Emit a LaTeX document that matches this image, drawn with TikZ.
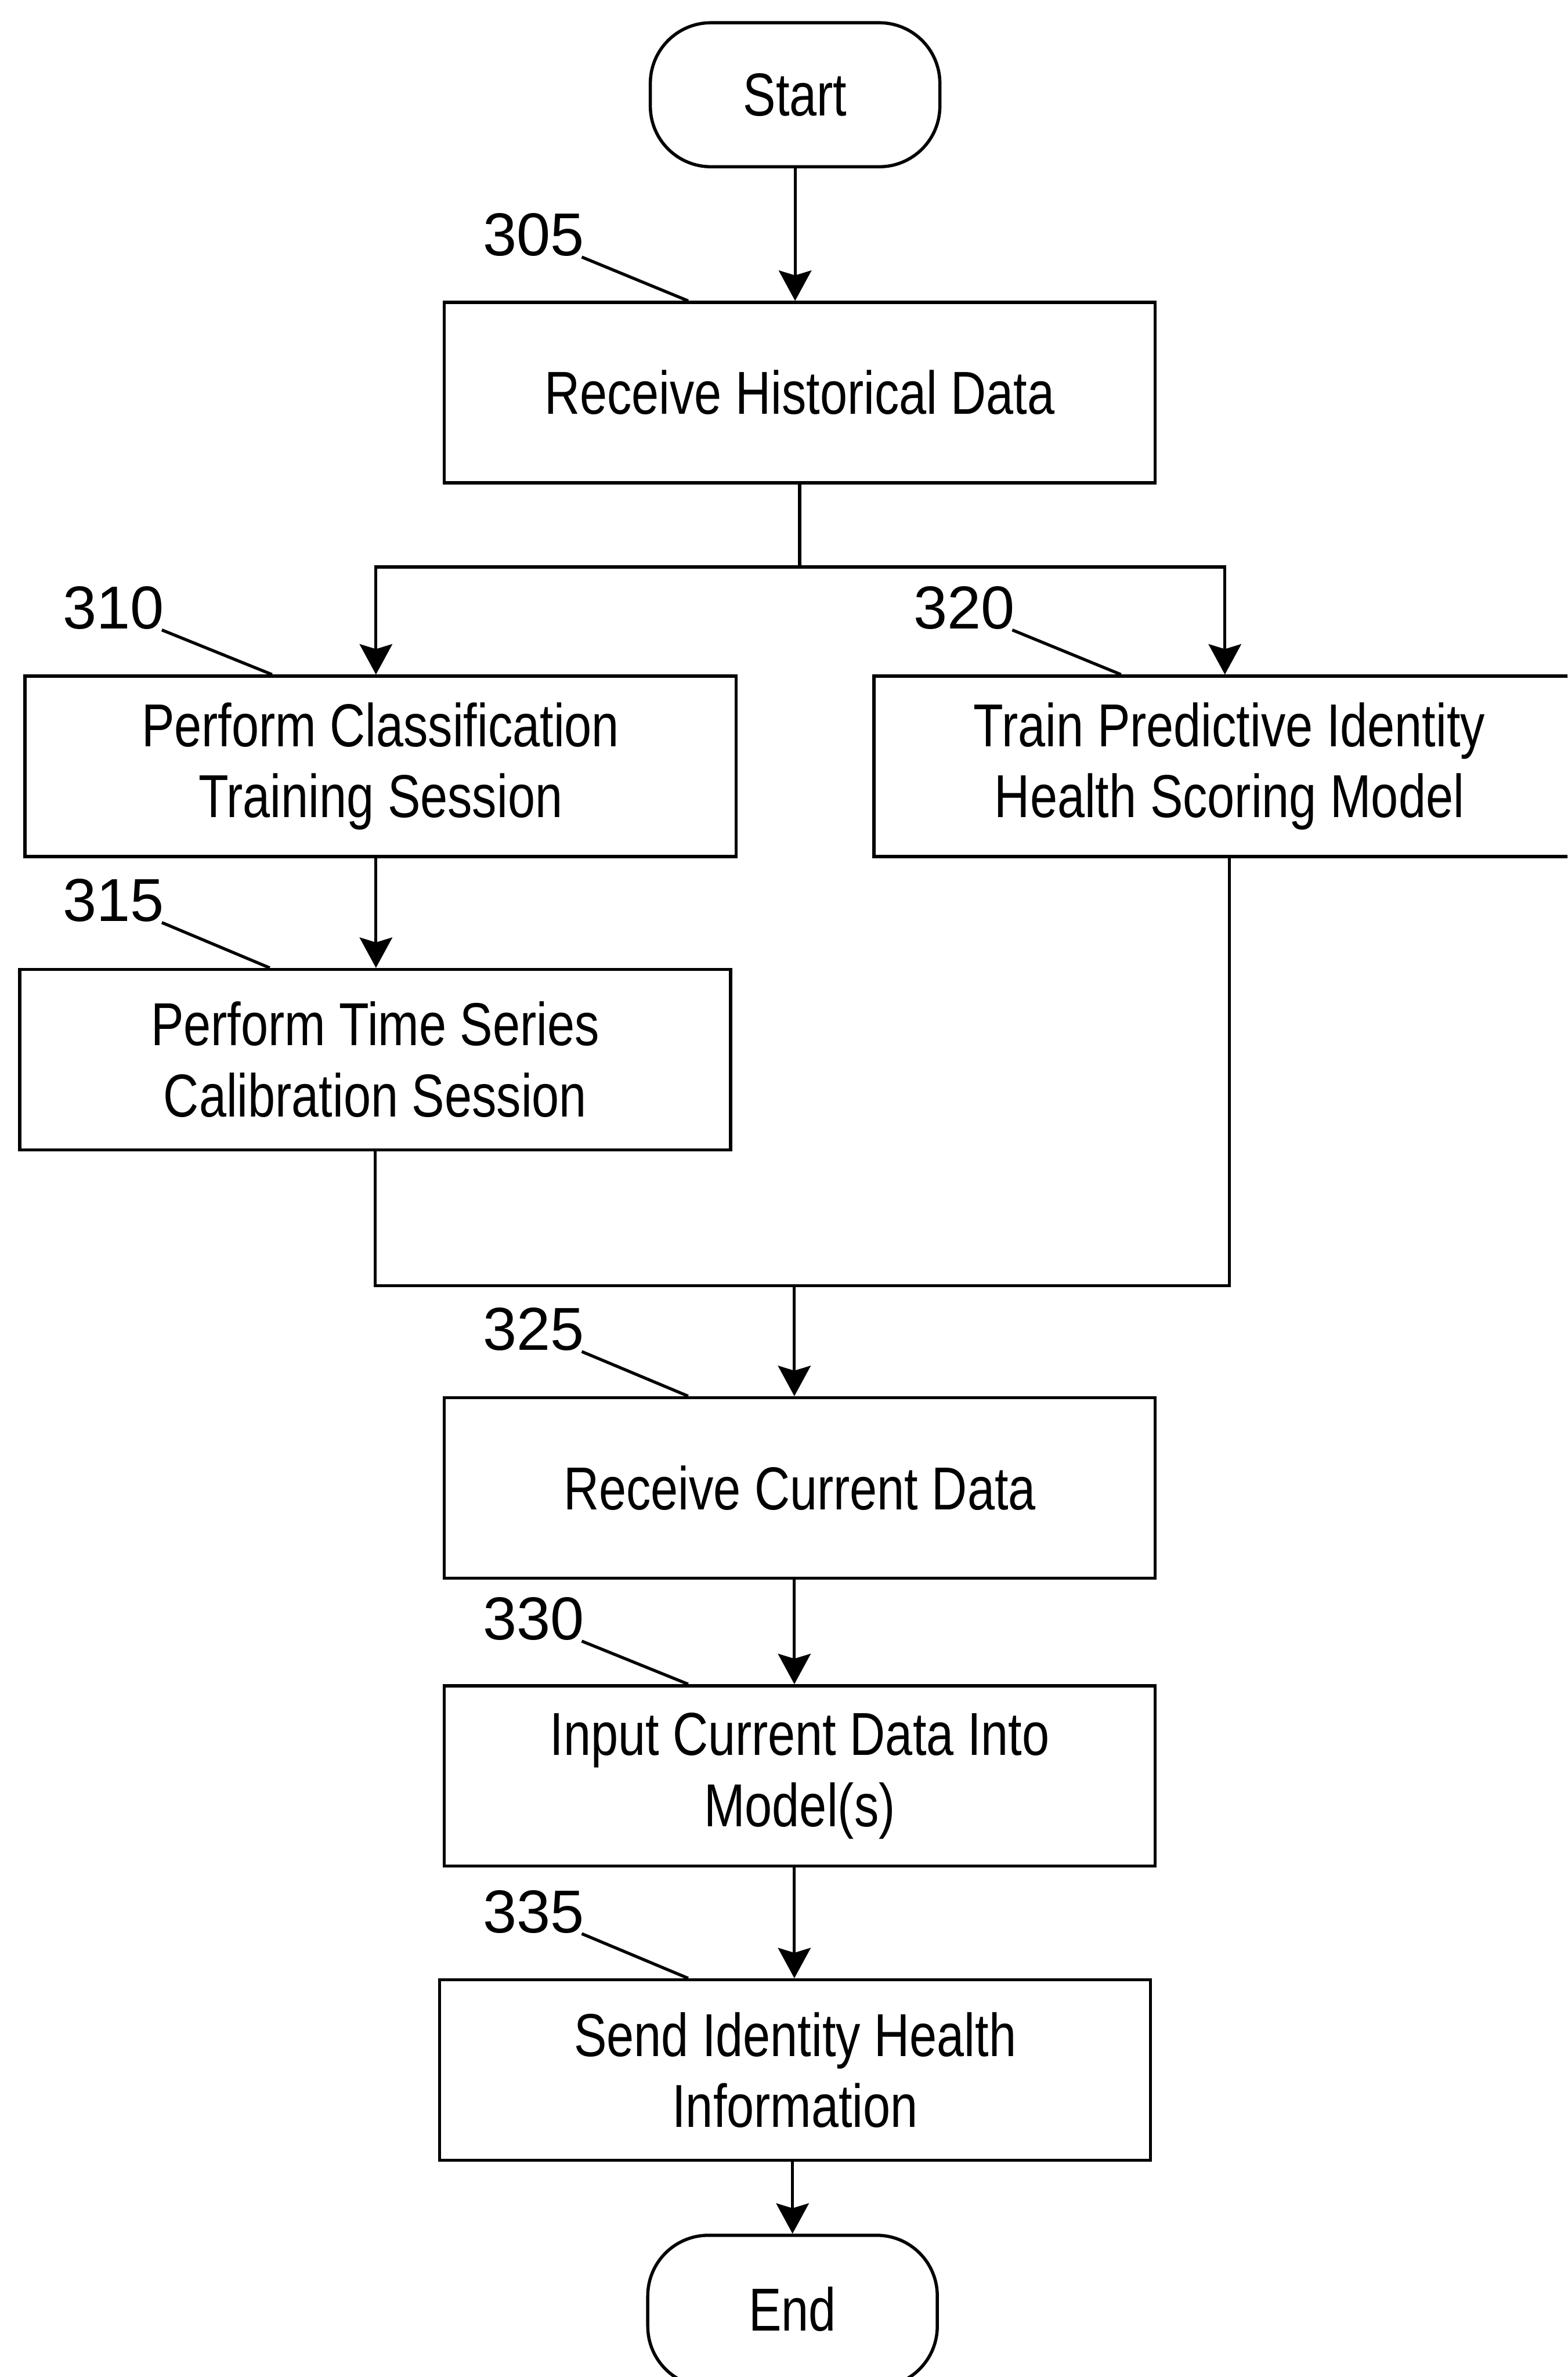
\documentclass[tikz,border=0pt]{standalone}
\usepackage{fontspec}
\setmainfont{Liberation Sans}
\newfontfamily\narrowfont[FakeStretch=0.81]{Liberation Sans}
\usetikzlibrary{arrows.meta,calc}
\newcommand\boxfont{\narrowfont\fontsize{20pt}{23.5pt}\selectfont}
\newcommand\refnumfont{\fontsize{20pt}{23.5pt}\selectfont}
\tikzset{
  stepbox/.style={draw, line width=1.05pt, minimum width=234.5pt, minimum height=59.5pt,
    align=center, font=\boxfont, inner sep=0pt},
  term/.style={draw, line width=1.05pt, rounded corners=20pt, minimum width=95.5pt,
    minimum height=47.5pt, font=\boxfont, inner sep=0pt},
  refnum/.style={font=\refnumfont, inner sep=0pt},
  leader/.style={line width=1pt},
  link/.style={line width=1pt},
  arr/.style={link, -{Stealth[length=10pt,width=10.75pt,inset=1.6pt]}}
}
\begin{document}
\begin{tikzpicture}[x=0.5pt,y=-0.5pt]
  % page frame
  \clip (0,0) rectangle (1034,1568);
  \fill[white] (0,0) rectangle (1034,1568);

  % terminals and process steps
  \node[term] (start) at (524.5,62.5) {Start};
  \node[stepbox] (b305) at (527.5,259) {Receive Historical Data};
  \node[stepbox] (b310) at (251,505.5) {Perform Classification\\Training Session};
  \node[stepbox] (b320) at (811,505.5) {Train Predictive Identity\\Health Scoring Model};
  \node[stepbox] (b315) at (247.5,699) {Perform Time Series\\Calibration Session};
  \node[stepbox] (b325) at (527.5,981.5) {Receive Current Data};
  \node[stepbox] (b330) at (527.5,1171.5) {Input Current Data Into\\Model(s)};
  \node[stepbox] (b335) at (524.5,1365.5) {Send Identity Health\\Information};
  \node[term, minimum height=50pt] (end) at (522.8,1524.5) {\raisebox{1.5pt}{End}};

  % reference numerals
  \node[refnum] (l305) at (352,155) {305};
  \node[refnum] (l310) at (75,401) {310};
  \node[refnum] (l315) at (75,594) {315};
  \node[refnum] (l320) at (636,401) {320};
  \node[refnum] (l325) at (352,877) {325};
  \node[refnum] (l330) at (352,1068) {330};
  \node[refnum] (l335) at (352,1261) {335};

  % leader lines from numerals to their steps
  \draw[leader] ($(l305.south east)+(-2,0)$) -- ($(b305.north west)+(162,0)$);
  \draw[leader] ($(l310.south east)+(-2,0)$) -- ($(b310.north west)+(164,0)$);
  \draw[leader] ($(l315.south east)+(-2,0)$) -- ($(b315.north west)+(166,0)$);
  \draw[leader] ($(l320.south east)+(-2,0)$) -- ($(b320.north west)+(164,0)$);
  \draw[leader] ($(l325.south east)+(-2,0)$) -- ($(b325.north west)+(162,0)$);
  \draw[leader] ($(l330.south east)+(-2,0)$) -- ($(b330.north west)+(162,0)$);
  \draw[leader] ($(l335.south east)+(-2,0)$) -- ($(b335.north west)+(165,0)$);

  % branch points
  \coordinate (split) at (527.5,374);
  \coordinate (j310) at (248,374);
  \coordinate (j320) at (808,374);
  \coordinate (merge) at (524,848);

  % flow
  \draw[arr] (start.south) -- (start.south |- b305.north);
  \draw[link] (b305.south) -- (split);
  \draw[arr] (split) -- (j310) -- (j310 |- b310.north);
  \draw[arr] (split) -- (j320) -- (j320 |- b320.north);
  \draw[arr] (b310.south -| j310) -- (b315.north -| j310);
  \draw[link] (b315.south) |- (merge);
  \draw[link] (b320.south) |- (merge);
  \draw[arr] (merge) -- (merge |- b325.north);
  \draw[arr] (b325.south -| merge) -- (b330.north -| merge);
  \draw[arr] (b330.south -| merge) -- (b335.north -| merge);
  \draw[arr] (b335.south -| end) -- (end.north);
\end{tikzpicture}
\end{document}
